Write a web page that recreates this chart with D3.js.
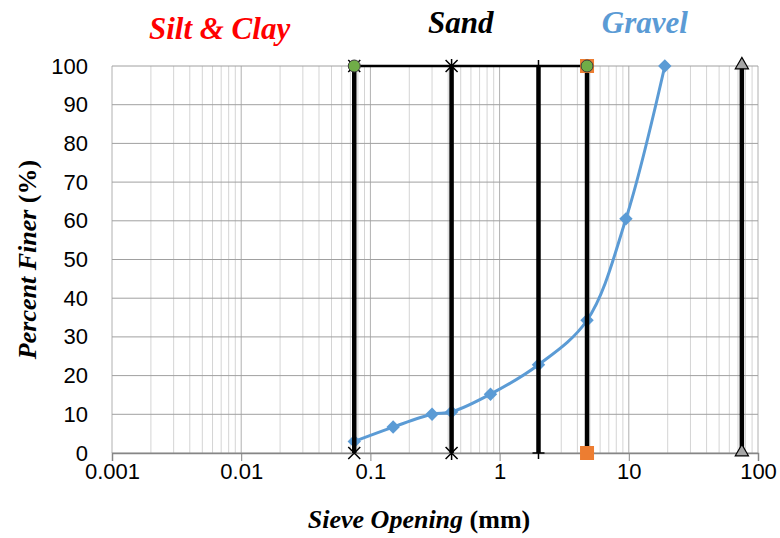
<!DOCTYPE html>
<html lang="en">
<head>
<meta charset="UTF-8">
<title>Sieve Analysis</title>
<style>
  body { margin: 0; background: #fff; }
  svg text { font-family: "Liberation Sans", Arial, sans-serif; }
  .serif { font-family: "Liberation Serif", "Times New Roman", serif !important; font-weight: bold; }
</style>
</head>
<body>
<div id="chart"></div>
<script src="https://d3js.org/d3.v7.min.js"></script>
<script>
// gradation curve
const sieveSizes = [0.075, 0.15, 0.3, 0.425, 0.85, 2, 4.75, 9.5, 19];
const percentFiner = [3, 6.7, 10, 10.6, 15.2, 22.8, 34.3, 60.5, 100];

// boundary lines (size, marker)
const boundarySizes = [0.075, 0.425, 2, 4.75, 75];
const boundaryMarkers = ["x", "star", "plus", "square", "triangle"];
const topLineSizes = [0.075, 4.75];

const xTicks = [0.001, 0.01, 0.1, 1, 10, 100];
const yTicks = [0, 10, 20, 30, 40, 50, 60, 70, 80, 90, 100];
const zoneLabels = ["Silt & Clay", "Sand", "Gravel"];
const zoneCenters = [0.0068, 0.5, 13.3];
const zoneColors = ["#ff0000", "#000000", "#5b9bd5"];

const W = 780, H = 538;
const margin = { top: 66, right: 22, bottom: 85, left: 112 };

const svg = d3.select("#chart").append("svg")
    .attr("width", W).attr("height", H);

const x = d3.scaleLog().domain([0.001, 100]).range([margin.left, W - margin.right]);
const y = d3.scaleLinear().domain([0, 100]).range([H - margin.bottom, margin.top]);

// minor vertical grid
const minor = [];
for (let e = -3; e < 2; e++) {
    for (let m = 2; m <= 9; m++) minor.push(m * Math.pow(10, e));
}
svg.append("g").selectAll("line").data(minor).enter().append("line")
    .attr("x1", d => x(d)).attr("x2", d => x(d))
    .attr("y1", y(0)).attr("y2", y(100))
    .attr("stroke", "#d4d4d4").attr("stroke-width", 1);

svg.append("g").selectAll("line").data(xTicks).enter().append("line")
    .attr("x1", d => x(d)).attr("x2", d => x(d))
    .attr("y1", y(0)).attr("y2", y(100))
    .attr("stroke", "#b0b0b0").attr("stroke-width", 1);

// horizontal grid
svg.append("g").selectAll("line").data(yTicks).enter().append("line")
    .attr("x1", x(0.001)).attr("x2", x(100))
    .attr("y1", d => y(d)).attr("y2", d => y(d))
    .attr("stroke", "#a0a0a0").attr("stroke-width", 1);

// x axis
const xAxis = svg.append("g")
    .attr("transform", `translate(0,${y(0)})`)
    .call(d3.axisBottom(x).tickValues(xTicks).tickSize(8).tickPadding(2)
        .tickFormat(d => d < 1 ? String(d) : d3.format("d")(d)));
xAxis.select(".domain").attr("stroke", "#868686").attr("stroke-width", 1.5);
xAxis.selectAll(".tick line").attr("stroke", "#868686");
xAxis.selectAll("text").attr("font-size", 22).attr("fill", "#000");

// y axis labels
const yAxis = svg.append("g")
    .attr("transform", `translate(${x(0.001)},0)`)
    .call(d3.axisLeft(y).tickValues(yTicks).tickSize(0).tickPadding(24));
yAxis.select(".domain").remove();
yAxis.selectAll("text").attr("font-size", 22).attr("fill", "#000");

// gradation curve
const pts = sieveSizes.map((s, i) => [s, percentFiner[i]]);
svg.append("path").datum(pts)
    .attr("fill", "none").attr("stroke", "#5b9bd5").attr("stroke-width", 3)
    .attr("d", d3.line().x(d => x(d[0])).y(d => y(d[1])).curve(d3.curveCatmullRom.alpha(0.5)));
svg.append("g").selectAll("path").data(pts).enter().append("path")
    .attr("transform", d => `translate(${x(d[0])},${y(d[1])})`)
    .attr("d", d3.symbol(d3.symbolDiamond2, 115)())
    .attr("fill", "#5b9bd5");

// top horizontal line
svg.append("line")
    .attr("x1", x(topLineSizes[0])).attr("x2", x(topLineSizes[1]))
    .attr("y1", y(100)).attr("y2", y(100))
    .attr("stroke", "#000").attr("stroke-width", 2.5);

// boundary lines
svg.append("g").selectAll("line").data(boundarySizes).enter().append("line")
    .attr("x1", d => x(d)).attr("x2", d => x(d))
    .attr("y1", y(0)).attr("y2", y(100))
    .attr("stroke", "#000").attr("stroke-width", 4.5);

// markers on boundary lines
function drawMarker(g, type) {
    if (type === "x") {
        g.append("path").attr("d", "M-6,-6L6,6M-6,6L6,-6").attr("stroke", "#000").attr("stroke-width", 1.5);
    } else if (type === "star") {
        g.append("path").attr("d", "M-6,-6L6,6M-6,6L6,-6M0,-7L0,7").attr("stroke", "#000").attr("stroke-width", 1.5);
    } else if (type === "plus") {
        g.append("path").attr("d", "M-6,0L6,0M0,-6L0,6").attr("stroke", "#000").attr("stroke-width", 1.5);
    } else if (type === "square") {
        g.append("rect").attr("x", -7).attr("y", -7).attr("width", 14).attr("height", 14)
            .attr("fill", "#ed7d31");
    } else if (type === "triangle") {
        g.append("path").attr("d", d3.symbol(d3.symbolTriangle, 75)())
            .attr("transform", "translate(0,-1)")
            .attr("fill", "#a5a5a5").attr("stroke", "#000").attr("stroke-width", 1.2);
    }
}
boundarySizes.forEach((s, i) => {
    [0, 100].forEach(v => {
        const g = svg.append("g").attr("transform", `translate(${x(s)},${y(v)})`);
        drawMarker(g, boundaryMarkers[i]);
    });
});

// green circles at top line ends
svg.append("g").selectAll("circle").data(topLineSizes).enter().append("circle")
    .attr("cx", d => x(d)).attr("cy", y(100)).attr("r", 6)
    .attr("fill", "#70ad47").attr("stroke", "#3a3a3a").attr("stroke-width", 1);

// zone labels
svg.append("g").selectAll("text").data(zoneLabels).enter().append("text")
    .attr("class", "serif")
    .attr("x", (d, i) => x(zoneCenters[i]))
    .attr("y", (d, i) => i === 0 ? 39 : 33)
    .attr("text-anchor", "middle")
    .attr("font-size", 31).attr("font-style", "italic")
    .attr("fill", (d, i) => zoneColors[i])
    .text(d => d);

// axis titles
const xt = svg.append("text").attr("class", "serif")
    .attr("x", (x(0.001) + x(100)) / 2 - 16).attr("y", 528)
    .attr("text-anchor", "middle").attr("font-size", 26);
xt.append("tspan").attr("font-style", "italic").text("Sieve Opening ");
xt.append("tspan").text("(mm)");

const yt = svg.append("text").attr("class", "serif")
    .attr("transform", `translate(36,${(y(0) + y(100)) / 2}) rotate(-90)`)
    .attr("text-anchor", "middle").attr("font-size", 26);
yt.append("tspan").attr("font-style", "italic").text("Percent Finer ");
yt.append("tspan").text("(%)");
</script>
</body>
</html>
